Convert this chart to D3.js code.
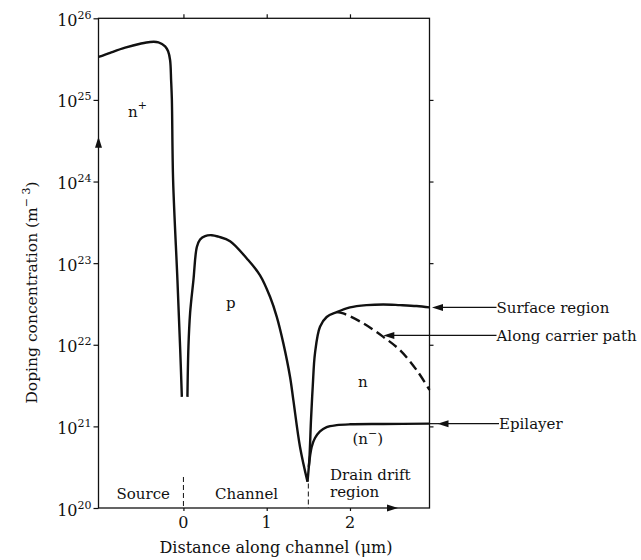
<!DOCTYPE html>
<html><head><meta charset="utf-8">
<script src="https://cdn.jsdelivr.net/npm/d3@7"></script>
<style>
html,body{margin:0;padding:0;background:#fff;}
svg{display:block;}
text{font-family:"DejaVu Serif",serif;fill:#111;}
</style>
</head><body>
<svg id="chart" width="641" height="560"></svg>
<script>
// ---- data ----
const xTicks = [0, 1, 2];
const yTickExponents = [20, 21, 22, 23, 24, 25, 26];
const boundaries = [0, 1.5];

const sourceX = [-1.02, -0.88, -0.70, -0.52, -0.40, -0.30, -0.22, -0.184, -0.16, -0.148, -0.139, -0.124, -0.072, -0.04, -0.019];
const sourceN = [3.36e25, 3.78e25, 4.36e25, 4.88e25, 5.13e25, 5.08e25, 4.54e25, 3.94e25, 3.06e25, 1.74e25, 1.02e25, 1.04e24, 6.2e22, 9.4e21, 2.3e21];

const channelX = [0.048, 0.06, 0.08, 0.12, 0.161, 0.20, 0.26, 0.341, 0.42, 0.56, 0.761, 0.92, 1.04, 1.121, 1.20, 1.28, 1.32, 1.40, 1.49];
const channelN = [2.3e21, 9.4e21, 2.44e22, 6.2e22, 1.58e23, 1.95e23, 2.15e23, 2.2e23, 2.11e23, 1.86e23, 1.14e23, 7.1e22, 3.87e22, 2.2e22, 1.04e22, 4.06e21, 2.1e21, 5.6e20, 2.1e20];

const surfaceX = [1.49, 1.512, 1.532, 1.553, 1.58, 1.64, 1.72, 1.84, 2.0, 2.2, 2.4, 2.6, 2.8, 2.955];
const surfaceN = [2.1e20, 3.9e20, 1.2e21, 3.1e21, 7.9e21, 1.66e22, 2.19e22, 2.51e22, 2.87e22, 3.06e22, 3.12e22, 3.06e22, 2.98e22, 2.87e22];

const carrierX = [1.84, 1.92, 2.16, 2.40, 2.60, 2.80, 2.955];
const carrierN = [2.51e22, 2.42e22, 1.83e22, 1.25e22, 8.6e21, 4.9e21, 2.8e21];

const epiX = [1.505, 1.54, 1.58, 1.64, 1.72, 1.84, 2.0, 2.4, 2.955];
const epiN = [3.2e20, 5.6e20, 7.2e20, 8.7e20, 9.8e20, 1.035e21, 1.06e21, 1.07e21, 1.08e21];

const annotationLabels = ["Surface region", "Along carrier path", "Epilayer"];

// ---- drawing ----
const ink = "#111";
const svg = d3.select("#chart");
const x = d3.scaleLinear().domain([-1.02, 2.955]).range([98.5, 429.5]);
const y = d3.scaleLog().domain([1e20, 1e26]).range([508, 18.3]);
const [x0, x1] = x.range();
const [yb, yt] = y.range();

const zip = (xs, ns) => xs.map((v, i) => [v, ns[i]]);
const line = d3.line().x(d => x(d[0])).y(d => y(d[1])).curve(d3.curveCatmullRom.alpha(0.5));

function arrowHead(tx, ty, dir) { // dir: 'up','right','left'
  const L = 11, w = 3.5;
  let p;
  if (dir === "up") p = [[tx, ty], [tx - w, ty + L], [tx + w, ty + L]];
  else if (dir === "right") p = [[tx, ty], [tx - L, ty - w], [tx - L, ty + w]];
  else p = [[tx, ty], [tx + L, ty - w], [tx + L, ty + w]];
  svg.append("path").attr("d", "M" + p.join("L") + "Z").attr("fill", ink);
}

// frame
svg.append("rect").attr("x", x0).attr("y", yt).attr("width", x1 - x0).attr("height", yb - yt)
  .attr("fill", "none").attr("stroke", ink).attr("stroke-width", 1.3);

const yVals = yTickExponents.map(e => Math.pow(10, e));
const gl = svg.append("g").attr("transform", `translate(${x0},0)`)
  .call(d3.axisLeft(y).tickValues(yVals).tickSize(5).tickSizeOuter(0).tickFormat(""));
const gr = svg.append("g").attr("transform", `translate(${x1},0)`)
  .call(d3.axisRight(y).tickValues(yVals.slice(1, -1)).tickSize(4).tickSizeOuter(0).tickFormat(""));
const gt = svg.append("g").attr("transform", `translate(0,${yt})`)
  .call(d3.axisTop(x).tickValues(xTicks).tickSize(4).tickSizeOuter(0).tickFormat(""));
const gb = svg.append("g").attr("transform", `translate(0,${yb})`)
  .call(d3.axisBottom(x).tickValues(xTicks).tickSize(3).tickSizeOuter(0).tickFormat(""));
[gl, gr, gt, gb].forEach(g => {
  g.select(".domain").remove();
  g.selectAll("line").attr("stroke", ink).attr("stroke-width", 1.2);
});

// y tick labels 10^n
yTickExponents.forEach(e => {
  const t = svg.append("text").attr("x", x0 - 7).attr("y", y(Math.pow(10, e)) + 7.5)
    .attr("text-anchor", "end").attr("font-size", 16);
  t.append("tspan").text("10");
  t.append("tspan").attr("font-size", 11).attr("dy", -7).text(String(e));
});
// x tick labels
xTicks.forEach(v => {
  svg.append("text").attr("x", x(v)).attr("y", yb + 20).attr("text-anchor", "middle")
    .attr("font-size", 16).text(String(v));
});

// axis arrows
arrowHead(x0, y(Math.pow(10, 24.55)), "up");
arrowHead(x(2.577), yb, "right");

// boundary dashed lines
svg.append("line").attr("x1", x(boundaries[0])).attr("x2", x(boundaries[0]))
  .attr("y1", y(Math.pow(10, 20.38))).attr("y2", yb)
  .attr("stroke", ink).attr("stroke-width", 1).attr("stroke-dasharray", "5,3");
svg.append("line").attr("x1", x(boundaries[1])).attr("x2", x(boundaries[1]))
  .attr("y1", y(Math.pow(10, 20.30))).attr("y2", yb)
  .attr("stroke", ink).attr("stroke-width", 1).attr("stroke-dasharray", "5,3");

// curves
const curve = (xs, ns, dash) => svg.append("path").attr("d", line(zip(xs, ns)))
  .attr("fill", "none").attr("stroke", ink).attr("stroke-width", 2.4)
  .attr("stroke-linecap", "butt").attr("stroke-linejoin", "round")
  .attr("stroke-dasharray", dash || null);
curve(sourceX, sourceN);
curve(channelX, channelN);
curve(surfaceX, surfaceN);
curve(carrierX, carrierN, "10,5");
curve(epiX, epiN);

// annotations with arrows
const labelX = 496.5;
const ann = [
  {text: annotationLabels[0], yv: surfaceN[surfaceN.length - 1], tip: x1 + 2.5, lx: labelX},
  {text: annotationLabels[1], yv: Math.pow(10, 22.114), tip: x(2.40), lx: labelX},
  {text: annotationLabels[2], yv: epiN[epiN.length - 1], tip: x1 + 8, lx: labelX + 2.5}
];
ann.forEach(a => {
  const yy = y(a.yv);
  svg.append("line").attr("x1", a.tip + 4).attr("x2", a.lx).attr("y1", yy).attr("y2", yy)
    .attr("stroke", ink).attr("stroke-width", 1.2);
  arrowHead(a.tip, yy, "left");
  svg.append("text").attr("x", a.lx).attr("y", yy + 5.5).attr("font-size", 15).text(a.text);
});
svg.append("line").attr("x1", x1).attr("x2", x1 + 10).attr("y1", y(epiN[epiN.length - 1])).attr("y2", y(epiN[epiN.length - 1]))
  .attr("stroke", ink).attr("stroke-width", 1.2);

// region labels
const lab = (tx, ty, s, size) => svg.append("text").attr("x", tx).attr("y", ty).attr("font-size", size || 15).text(s);
lab(116.5, 499.3, "Source");
lab(215, 499.3, "Channel");
lab(330, 480, "Drain drift");
lab(330, 496.5, "region");

// doping type labels
const nplus = lab(128, 116.7, "n");
nplus.append("tspan").attr("font-size", 11).attr("dy", -8).text("+");
lab(226, 308, "p");
lab(358, 386.7, "n");
const nminus = svg.append("text").attr("x", 352.5).attr("y", 444).attr("font-size", 15);
nminus.append("tspan").text("(n");
nminus.append("tspan").attr("font-size", 11).attr("dy", -7).text("\u2212");
nminus.append("tspan").attr("dy", 7).text(")");

// axis titles
svg.append("text").attr("x", 276).attr("y", 552.5).attr("text-anchor", "middle").attr("font-size", 16)
  .text("Distance along channel (\u03bcm)");
const yt2 = svg.append("text").attr("transform", "translate(37,292.5) rotate(-90)")
  .attr("text-anchor", "middle").attr("font-size", 15.5);
yt2.append("tspan").text("Doping concentration (m");
yt2.append("tspan").attr("font-size", 11).attr("dy", -7).text("\u2212 3");
yt2.append("tspan").attr("dy", 7).text(")");
</script>
</body></html>
